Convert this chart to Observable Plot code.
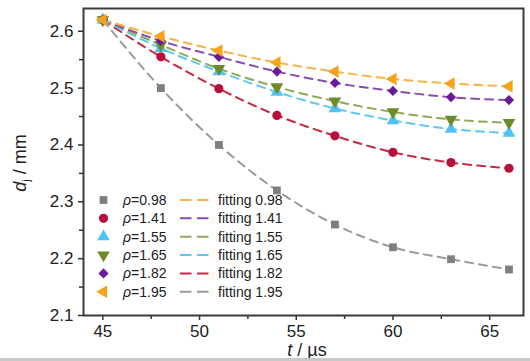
<!DOCTYPE html>
<html><head><meta charset="utf-8">
<script src="https://cdn.jsdelivr.net/npm/d3@7"></script>
<script src="https://cdn.jsdelivr.net/npm/@observablehq/plot@0.6"></script>
<style>
body{margin:0;background:#fff;font-family:"Liberation Sans",Arial,sans-serif;}
#wrap{position:relative;width:530px;height:361px;overflow:hidden;}
#wrap svg{display:block;}
#edge{position:absolute;left:0;top:358px;width:530px;height:3px;background:#c8c8c8;}
</style></head><body><div id="wrap"></div>
<script>
// ---- data ----
const times = [45, 48, 51, 54, 57, 60, 63, 66];
const seriesNames = ["0.98", "1.41", "1.55", "1.65", "1.82", "1.95"];
const d098 = [2.620, 2.500, 2.400, 2.320, 2.260, 2.220, 2.199, 2.181];
const d141 = [2.620, 2.555, 2.499, 2.452, 2.416, 2.387, 2.369, 2.359];
const d155 = [2.620, 2.570, 2.529, 2.493, 2.464, 2.443, 2.428, 2.421];
const d165 = [2.620, 2.576, 2.534, 2.502, 2.477, 2.458, 2.445, 2.439];
const d182 = [2.620, 2.583, 2.555, 2.529, 2.509, 2.495, 2.484, 2.479];
const d195 = [2.620, 2.591, 2.566, 2.545, 2.529, 2.516, 2.508, 2.503];
const pointLabels = ["ρ=0.98", "ρ=1.41", "ρ=1.55", "ρ=1.65", "ρ=1.82", "ρ=1.95"];
const fitLabels = ["fitting 0.98", "fitting 1.41", "fitting 1.55", "fitting 1.65", "fitting 1.82", "fitting 1.95"];
const xTicks = [45, 50, 55, 60, 65];
const xMinor = [47.5, 52.5, 57.5, 62.5];
const yTicks = [2.1, 2.2, 2.3, 2.4, 2.5, 2.6];
const yMinor = [2.15, 2.25, 2.35, 2.45, 2.55];

// ---- styles ----
const markerColors = ["#7f7f7f", "#b8103a", "#4fc3f7", "#6e8b2a", "#6a1b9a", "#f5a31a"];
const lineColors = ["#9a9a9a", "#c8283f", "#5fc8f2", "#8eaa58", "#8b4bb0", "#f7b24a"];
const symbols = ["square", "circle", "triangle", "triangle", "diamond2", "triangle"];
const rotations = [0, 0, 0, 180, 0, -90];
const radii = [4.4, 4.6, 4.7, 4.7, 4.6, 4.7];
// legend line colours (as in the original legend, in its order)
const legendLineColors = ["#f7b24a", "#8b4bb0", "#8eaa58", "#5fc8f2", "#c8283f", "#9a9a9a"];

const allValues = [d098, d141, d155, d165, d182, d195];
const rows = [];
allValues.forEach((vals, i) => vals.forEach((v, j) => rows.push({t: times[j], d: v, s: i})));

const dotMarks = allValues.map((vals, i) =>
  Plot.dot(rows.filter(r => r.s === i), {
    x: "t", y: "d", symbol: symbols[i], rotate: rotations[i], r: radii[i],
    fill: markerColors[i], stroke: "none"
  })
);

const chart = Plot.plot({
  width: 530, height: 361,
  marginLeft: 83, marginRight: 7, marginTop: 8, marginBottom: 46,
  x: {domain: [44, 66.75]},
  y: {domain: [2.1, 2.64]},
  color: {type: "identity"},
  style: {fontSize: "17px", fontFamily: "'Liberation Sans', Arial, sans-serif", color: "#222", background: "#fff"},
  marks: [
    Plot.line(rows, {x: "t", y: "d", z: "s", stroke: r => lineColors[r.s], curve: "monotone-x",
      strokeDasharray: "8,6", strokeWidth: 2}),
    ...dotMarks,
    Plot.axisX(xTicks, {tickSize: 5, tickPadding: 4, label: null, stroke: "#333", strokeWidth: 1.5}),
    Plot.axisX(xMinor, {tickSize: 4, tickFormat: () => "", label: null, stroke: "#333", strokeWidth: 1.5}),
    Plot.axisY(yTicks, {tickSize: 5, tickPadding: 5, tickFormat: d3.format(".1f"), label: null, stroke: "#333", strokeWidth: 1.5}),
    Plot.axisY(yMinor, {tickSize: 4, tickFormat: () => "", label: null, stroke: "#333", strokeWidth: 1.5}),
    Plot.frame({stroke: "#3a3a3a", strokeWidth: 2})
  ]
});

const svg = d3.select(chart);
const font = "'Liberation Sans', Arial, sans-serif";

// axis titles
const yl = svg.append("text")
  .attr("transform", "translate(26,163) rotate(-90)")
  .attr("text-anchor", "middle").attr("font-family", font).attr("font-size", 18).attr("fill", "#222");
yl.append("tspan").attr("font-style", "italic").text("d");
yl.append("tspan").attr("font-size", 11).attr("dy", 4).text("j");
yl.append("tspan").attr("dy", -4).text(" / mm");

const xl = svg.append("text")
  .attr("x", 307).attr("y", 356)
  .attr("text-anchor", "middle").attr("font-family", font).attr("font-size", 18).attr("fill", "#222");
xl.append("tspan").attr("font-style", "italic").text("t");
xl.append("tspan").text(" / µs");

// legend
const symMap = {square: d3.symbolSquare, circle: d3.symbolCircle, triangle: d3.symbolTriangle, diamond2: d3.symbolDiamond2};
const lg = svg.append("g").attr("font-family", font).attr("font-size", 14).attr("fill", "#222")
  .attr("text-anchor", "start");
const rowY0 = 200, rowStep = 18.35;
seriesNames.forEach((n, i) => {
  const y = rowY0 + i * rowStep;
  lg.append("path")
    .attr("d", d3.symbol(symMap[symbols[i]], Math.PI * radii[i] * radii[i])())
    .attr("transform", `translate(103.5,${y}) rotate(${rotations[i]})`)
    .attr("fill", markerColors[i]);
  const t = lg.append("text").attr("x", 123).attr("y", y).attr("dy", "0.36em").attr("text-anchor", "start");
  t.append("tspan").attr("font-style", "italic").text("ρ");
  t.append("tspan").text(pointLabels[i].slice(1));
  lg.append("line").attr("x1", 180).attr("x2", 208.5).attr("y1", y).attr("y2", y)
    .attr("stroke", legendLineColors[i]).attr("stroke-width", 2).attr("stroke-dasharray", "11.5,5.5");
  lg.append("text").attr("x", 218).attr("y", y).attr("dy", "0.36em").attr("text-anchor", "start").text(fitLabels[i]);
});

document.getElementById("wrap").appendChild(chart);
const edge = document.createElement("div"); edge.id = "edge";
document.getElementById("wrap").appendChild(edge);
</script></body></html>
